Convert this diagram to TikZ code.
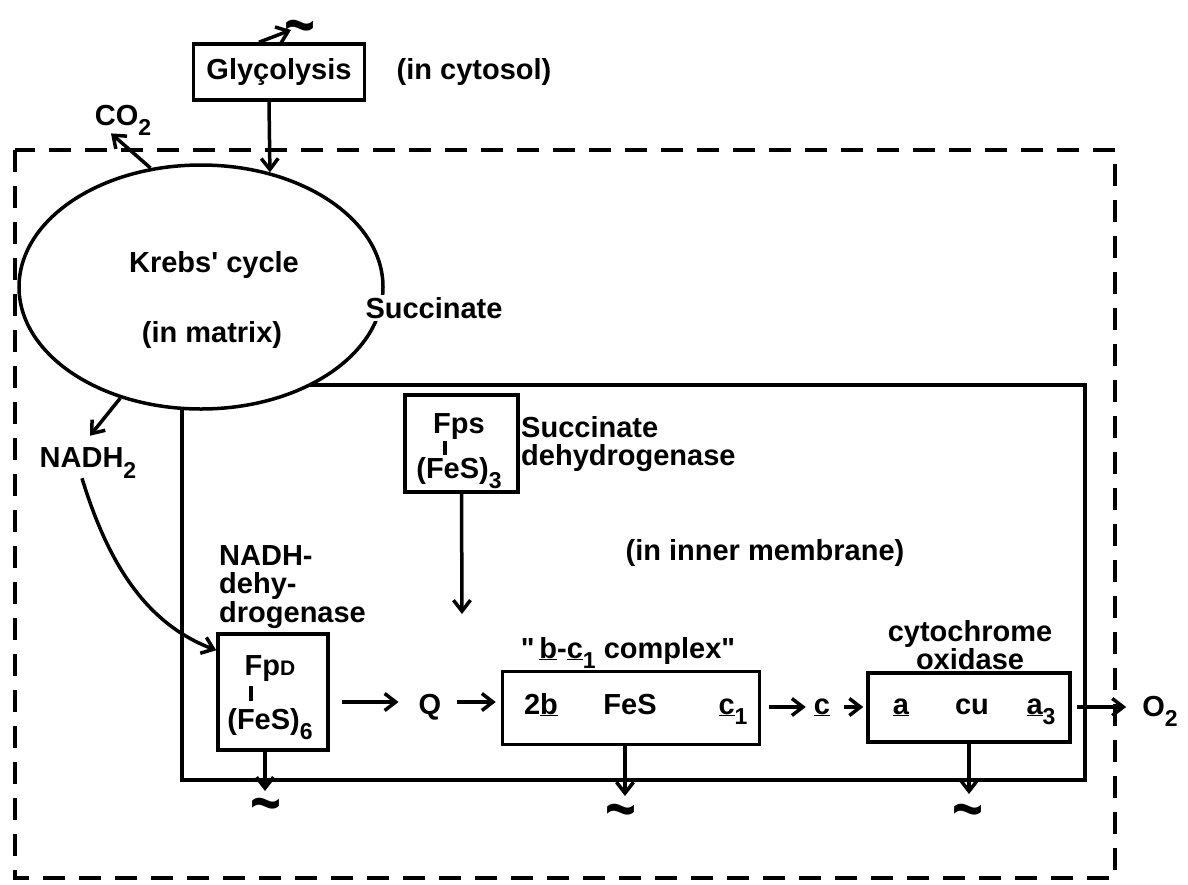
\documentclass[tikz,border=0pt]{standalone}
\usepackage{fontspec}
\setmainfont{Liberation Sans}
\usetikzlibrary{shapes.geometric,arrows.meta}
\newcommand\sbs[1]{\raisebox{-0.35em}{\fontsize{23}{23}\selectfont #1}}
\newcommand\tld{\scalebox{1.15}[1.5]{\textasciitilde}}
\begin{document}
\begin{tikzpicture}[x=1pt,y=-1pt,
  every node/.style={font=\fontsize{29}{30}\selectfont\bfseries, inner sep=0pt},
  lbox/.style={draw, line width=3.5pt},
  ar/.style={line width=3.5pt, -{Straight Barb[length=11pt,width=17pt,line width=3.5pt]}},
  tl/.style={font=\fontsize{46}{46}\selectfont\bfseries, anchor=base},
  bar/.style={line width=3.5pt},
  bl/.style={anchor=base}
]
\useasboundingbox (0,0) rectangle (1188,884);
% outer dashed mitochondrion
\draw[line width=4.5pt, dash pattern=on 22pt off 14pt] (15,150) rectangle (1115,878);
% inner membrane
\draw[line width=3.5pt] (182,385) rectangle (1085,780);
% Krebs cycle
\node[draw, ellipse, line width=3.5pt, fill=white, minimum width=364pt, minimum height=244pt] (krebs) at (201,287) {};
\node (kc) at (214,265) {Krebs\textquotesingle{} cycle};
\node (im) at (212,335) {(in matrix)};
\node[fill=white, inner sep=2pt] (succ) at (434,308) {Succinate};
% glycolysis
\node[lbox, minimum width=171pt, minimum height=56pt] (gly) at (279,72) {Glyçolysis};
\node (cyt) at (474,72) {(in cytosol)};
\node[tl] (t0) at (300,48) {\tld};
\coordinate (e0) at (291,30);
\draw[ar] ([xshift=-20pt]gly.north) -- (e0);
\draw[ar] ([xshift=-10pt]gly.south) -- (krebs.59);
% CO2
\node (co2) at (123,120) {CO\sbs{2}};
\draw[ar] (krebs.113) -- ([xshift=-12pt,yshift=2pt]co2.south);
% NADH2
\node (nadh) at (88,463) {NADH\sbs{2}};
\draw[ar] (krebs.234) -- ([xshift=2pt,yshift=12pt]nadh.north);
% NADH dehydrogenase
\node[align=left, anchor=north west, font=\fontsize{29}{28.5}\selectfont\bfseries] (ndl) at (219,545) {NADH-\\dehy-\\drogenase};
\node[lbox, minimum width=110pt, minimum height=116pt] (fpd) at (273,692) {};
\node[bl] (fpdt) at (270,675) {Fp{\fontsize{21}{21}\selectfont D}};
\draw[bar] (251,686) -- (251,701);
\node[bl] (fes6) at (270,729) {(FeS)\sbs{6}};
\draw[ar] ([xshift=-6pt]nadh.south) .. controls (110,570) and (150,625) .. ([yshift=-18pt]fpd.north west);
% rows of the chain
\coordinate (r1) at (0,702);
\coordinate (r2) at (0,707);
% Q
\node[bl] (q) at (430,714) {Q};
\draw[ar] ([xshift=12pt]fpd.east |- r1) -- ([xshift=-20pt]q.west |- r1);
% succinate dehydrogenase
\node[lbox, minimum width=113pt, minimum height=97pt] (fps) at (461.5,443.5) {};
\node[bl] (fpst) at (459,433) {Fps};
\draw[bar] (445,441) -- (445,455);
\node[bl] (fes3) at (459,478) {(FeS)\sbs{3}};
\node[align=left, anchor=west, font=\fontsize{29}{28}\selectfont\bfseries] (sdl) at (521,444) {Succinate\\dehydrogenase};
\coordinate (qin) at (462,614);
\draw[ar] (fps.south) -- (qin);
\node (imb) at (765,553) {(in inner membrane)};
% b-c1 complex
\node[lbox, minimum width=257pt, minimum height=73pt] (bc) at (631,708) {};
\node[bl] (bcl) at (628,658) {\textquotedbl\,\underline{b}-\underline{c}\sbs{1} complex\textquotedbl};
\node[bl] (b2) at (541,714) {2\underline{b}};
\node[bl] (fes) at (630,714) {FeS};
\node[bl] (c1) at (733,714) {\underline{c}\sbs{1}};
\draw[ar] ([xshift=16pt]q.east |- r1) -- ([xshift=-5pt]bc.west |- r1);
% c
\node[bl] (c) at (822,714) {\underline{c}};
\draw[ar] ([xshift=8pt]bc.east |- r2) -- ([xshift=-8pt]c.west |- r2);
% cytochrome oxidase
\node[lbox, minimum width=202pt, minimum height=69pt] (ox) at (969,707.5) {};
\node[align=center, font=\fontsize{29}{28}\selectfont\bfseries] (oxl) at (970,645) {cytochrome\\oxidase};
\node[bl] (a) at (901,714) {\underline{a}};
\node[bl] (cu) at (972,714) {cu};
\node[bl] (a3) at (1041,714) {\underline{a}\sbs{3}};
\draw[ar] ([xshift=14pt]c.east |- r2) -- ([xshift=-3pt]ox.west |- r2);
\node[bl] (o2) at (1160,716) {O\sbs{2}};
\draw[ar] ([xshift=5pt]ox.east |- r2) -- ([xshift=-16pt]o2.west |- r2);
% tildes
\node[tl] (t1) at (266,826) {\tld};
\node[tl] (t2) at (621,832) {\tld};
\node[tl] (t3) at (968,832) {\tld};
\coordinate (e1) at (265,791);
\coordinate (e2) at (625,796);
\coordinate (e3) at (969,794);
\draw[ar] ([xshift=-8pt]fpd.south) -- (e1);
\draw[ar] ([xshift=-6pt]bc.south) -- (e2);
\draw[ar] (ox.south) -- (e3);
\end{tikzpicture}
\end{document}
